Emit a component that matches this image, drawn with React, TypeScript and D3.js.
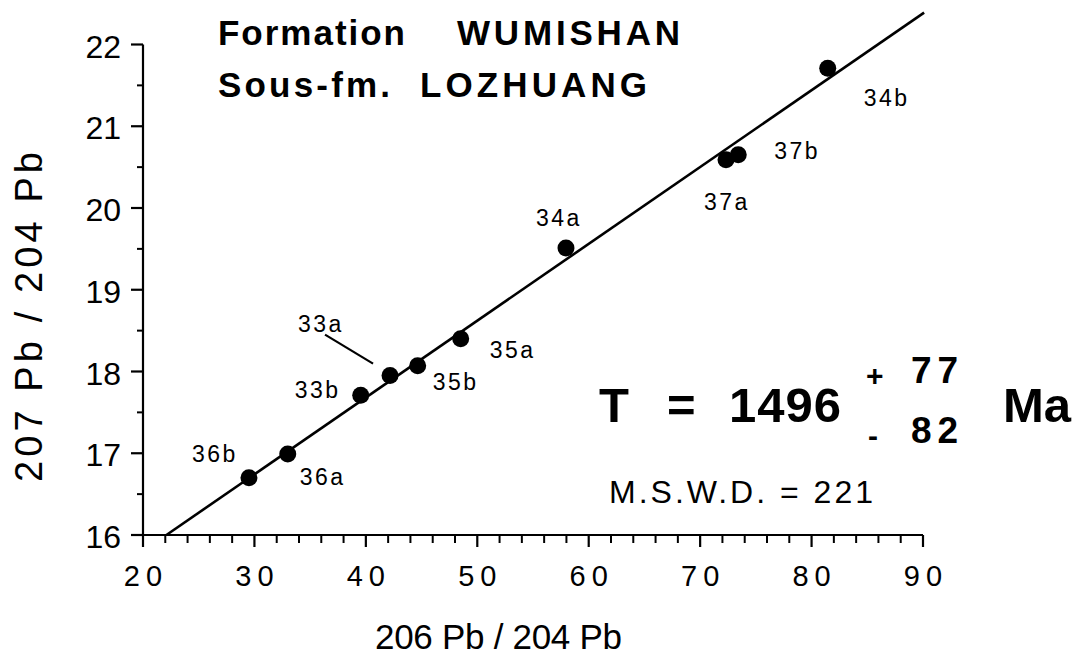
import React from 'react';
import * as d3 from 'd3';

// ---- data ----
const sampleIds = ['36b', '36a', '33b', '33a', '35b', '35a', '34a', '37a', '37b', '34b'];
const pb206_204 = [29.51, 32.99, 39.54, 42.17, 44.65, 48.51, 57.96, 72.32, 73.42, 81.45];
const pb207_204 = [16.7, 16.99, 17.71, 17.95, 18.07, 18.4, 19.51, 20.59, 20.65, 21.71];
const fitX = [22.1, 90.1];
const fitY = [16.0, 22.39];
const xTicks = [20, 30, 40, 50, 60, 70, 80, 90];
const yTicks = [16, 17, 18, 19, 20, 21, 22];
const xMinorTicks = [22, 24, 26, 28, 32, 34, 36, 38, 42, 44, 46, 48, 52, 54, 56, 58, 62, 64, 66, 68, 72, 74, 76, 78, 82, 84, 86, 88];
const yMinorTicks = [16.5, 17.5, 18.5, 19.5, 20.5, 21.5];
const titleLine1 = ['Formation', 'WUMISHAN'];
const titleLine2 = ['Sous-fm.', 'LOZHUANG'];
const ageValue = '1496';
const agePlus = '77';
const ageMinus = '82';
const mswdText = 'M.S.W.D. = 221';
const xTitle = '206 Pb / 204 Pb';
const yTitle = '207 Pb / 204 Pb';

// ---- layout (pixel offsets for labels, relative to their point) ----
const labelOffsets: [number, number][] = [
  [-57, -16], [12, 31], [-66, 3], [-92, -44], [15, 24],
  [29, 19], [-30, -22], [-22, 50], [36, 4], [36, 38],
];
const leader33a = [[-65, -41], [-17, -12]];

const W = 1074;
const H = 657;
const FONT = '"Liberation Sans", Arial, Helvetica, sans-serif';

export default function App() {
  const x = d3.scaleLinear().domain([20, 90]).range([143, 923]);
  const y = d3.scaleLinear().domain([16, 22]).range([535, 44.5]);
  const line = d3
    .line<number>()
    .x((d) => x(fitX[d]))
    .y((d) => y(fitY[d]));

  const x0 = x(20);
  const y0 = y(16);

  return (
    <svg
      width={W}
      height={H}
      style={{ position: 'absolute', left: 0, top: 0, background: '#fff' }}
      fontFamily={FONT}
    >
      <rect x={0} y={0} width={W} height={H} fill="#fff" />
      {/* axes */}
      <line x1={x0} x2={x(90)} y1={y0} y2={y0} stroke="#000" strokeWidth={2.2} />
      <line x1={x0} x2={x0} y1={y(22)} y2={y0 + 1} stroke="#000" strokeWidth={2.2} />
      {xTicks.map((t) => (
        <g key={'xt' + t}>
          <line x1={x(t)} x2={x(t)} y1={y0} y2={y0 + 12} stroke="#000" strokeWidth={2.2} />
          <text x={x(t) + 3} y={586} textAnchor="middle" fontSize={29} letterSpacing={6}>
            {t}
          </text>
        </g>
      ))}
      {xMinorTicks.map((t) => (
        <line key={'xm' + t} x1={x(t)} x2={x(t)} y1={y0} y2={y0 + 8} stroke="#000" strokeWidth={2} />
      ))}
      {yTicks.map((t) => (
        <g key={'yt' + t}>
          <line x1={x0 - 12} x2={x0} y1={y(t)} y2={y(t)} stroke="#000" strokeWidth={2.2} />
          <text x={121} y={y(t) + 13} textAnchor="end" fontSize={32}>
            {t}
          </text>
        </g>
      ))}
      {yMinorTicks.map((t) => (
        <line key={'ym' + t} x1={x0 - 6} x2={x0} y1={y(t)} y2={y(t)} stroke="#000" strokeWidth={2} />
      ))}

      {/* axis titles */}
      <text x={375} y={649} fontSize={35} textLength={247} lengthAdjust="spacing">
        {xTitle}
      </text>
      <text
        transform={`translate(42,482) rotate(-90)`}
        fontSize={38}
        textLength={330}
        lengthAdjust="spacing"
      >
        {yTitle}
      </text>

      {/* regression line */}
      <path d={line([0, 1]) || ''} fill="none" stroke="#000" strokeWidth={2.6} />

      {/* points */}
      {sampleIds.map((id, i) => (
        <circle key={'p' + id} cx={x(pb206_204[i])} cy={y(pb207_204[i])} r={8.5} fill="#000" />
      ))}
      {sampleIds.map((id, i) => (
        <text
          key={'l' + id}
          x={x(pb206_204[i]) + labelOffsets[i][0]}
          y={y(pb207_204[i]) + labelOffsets[i][1]}
          fontSize={23}
          letterSpacing={2.5}
        >
          {id}
        </text>
      ))}
      {/* leader for 33a */}
      <line
        x1={x(pb206_204[3]) + leader33a[0][0]}
        y1={y(pb207_204[3]) + leader33a[0][1]}
        x2={x(pb206_204[3]) + leader33a[1][0]}
        y2={y(pb207_204[3]) + leader33a[1][1]}
        stroke="#000"
        strokeWidth={2.2}
      />

      {/* title */}
      <g fontWeight="bold" fontSize={35}>
        <text x={218} y={45} textLength={187} lengthAdjust="spacing">{titleLine1[0]}</text>
        <text x={457} y={45} textLength={223} lengthAdjust="spacing">{titleLine1[1]}</text>
        <text x={218} y={97} textLength={172} lengthAdjust="spacing">{titleLine2[0]}</text>
        <text x={420} y={97} textLength={227} lengthAdjust="spacing">{titleLine2[1]}</text>
      </g>

      {/* age annotation */}
      <g fontWeight="bold">
        <text x={599} y={422} fontSize={49}>T</text>
        <text x={667} y={422} fontSize={49}>=</text>
        <text x={729} y={422} fontSize={49} textLength={112} lengthAdjust="spacing">{ageValue}</text>
        <text x={866} y={386} fontSize={30}>+</text>
        <text x={911} y={383} fontSize={37} textLength={47} lengthAdjust="spacing">{agePlus}</text>
        <text x={868} y={446} fontSize={30}>-</text>
        <text x={911} y={443} fontSize={37} textLength={47} lengthAdjust="spacing">{ageMinus}</text>
        <text x={1003} y={422} fontSize={49}>Ma</text>
      </g>
      <text x={609} y={503} fontSize={32} textLength={264} lengthAdjust="spacing">
        {mswdText}
      </text>
    </svg>
  );
}
